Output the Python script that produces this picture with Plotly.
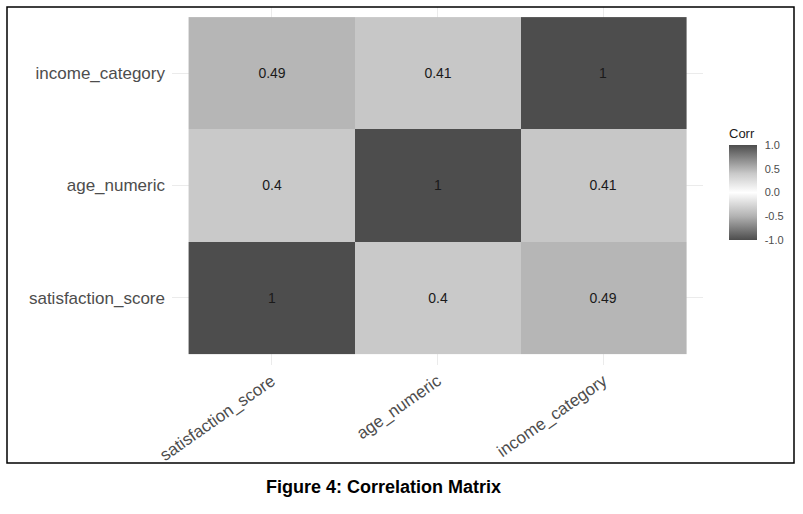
import plotly.graph_objects as go

variables = ["satisfaction_score", "age_numeric", "income_category"]
row_satisfaction = [1.0, 0.40, 0.49]
row_age = [0.40, 1.0, 0.41]
row_income = [0.49, 0.41, 1.0]
cell_text_satisfaction = ["1", "0.4", "0.49"]
cell_text_age = ["0.4", "1", "0.41"]
cell_text_income = ["0.49", "0.41", "1"]
colorbar_ticks = [1.0, 0.5, 0.0, -0.5, -1.0]
colorbar_labels = ["1.0", "0.5", "0.0", "-0.5", "-1.0"]

z = [row_satisfaction, row_age, row_income]
text = [cell_text_satisfaction, cell_text_age, cell_text_income]

W, H = 803, 514
L, R, T, B = 172, 100, 7, 149
pw, ph = W - L - R, H - T - B

def px(x):
    return (x - L) / pw

def py(y):
    return (H - B - y) / ph

colorscale = [
    [0.0, "#4d4d4d"],
    [0.25, "#b2b2b2"],
    [0.5, "#ffffff"],
    [0.7, "#c9c9c9"],
    [0.745, "#b6b6b6"],
    [1.0, "#4d4d4d"],
]

fig = go.Figure(go.Heatmap(
    z=z, x=variables, y=variables,
    text=text, texttemplate="%{text}",
    textfont=dict(size=14, color="#1a1a1a", family="Liberation Sans, Arial"),
    colorscale=colorscale, zmin=-1, zmax=1,
    hoverinfo="skip",
    colorbar=dict(
        title=dict(text="Corr", side="top", font=dict(size=13, color="#1a1a1a")),
        tickvals=colorbar_ticks, ticktext=colorbar_labels,
        tickfont=dict(size=11, color="#4d4d4d"),
        ticks="outside", ticklen=6, tickcolor="white",
        lenmode="pixels", len=115, thickness=28, ypad=0, xpad=0,
        x=px(729), xanchor="left", y=py(240), yanchor="bottom",
        outlinewidth=0,
    ),
))

fig.update_layout(
    width=W, height=H,
    margin=dict(l=L, r=R, t=T, b=B, autoexpand=False),
    paper_bgcolor="white", plot_bgcolor="white",
    font=dict(family="Liberation Sans, Arial", color="#4d4d4d"),
    xaxis=dict(range=[-0.6, 2.6], tickangle=-35, showgrid=True, automargin=False,
               gridcolor="#ebebeb", gridwidth=1, zeroline=False, ticklabelstandoff=2,
               tickfont=dict(size=17, color="#4d4d4d"), ticks="", showline=False),
    yaxis=dict(range=[-0.6, 2.59], showgrid=True, gridcolor="#ebebeb", automargin=False,
               gridwidth=1, zeroline=False, ticklabelstandoff=6,
               tickfont=dict(size=17, color="#4d4d4d"), ticks="", showline=False),
    shapes=[dict(type="rect", xref="paper", yref="paper",
                 x0=px(7), x1=px(794), y0=py(463), y1=py(7),
                 line=dict(color="black", width=1.5), fillcolor="rgba(0,0,0,0)")],
    annotations=[dict(text="<b>Figure 4: Correlation Matrix</b>", xref="paper", yref="paper",
                      x=px(383), y=py(487), xanchor="center", yanchor="middle",
                      showarrow=False, font=dict(size=18, color="black", family="Liberation Sans, Arial"))],
)

fig.write_html("out.html", config={"displayModeBar": False},
               post_script="document.body.style.margin='0px';")
